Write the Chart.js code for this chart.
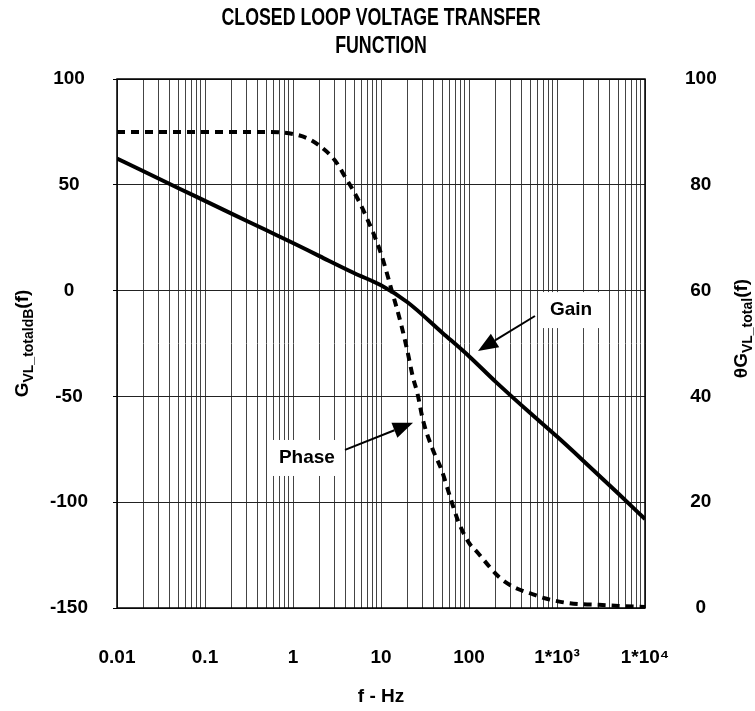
<!DOCTYPE html>
<html>
<head>
<meta charset="utf-8">
<script src="https://cdn.jsdelivr.net/npm/chart.js@4.4.0/dist/chart.umd.min.js"></script>
<style>
  body { margin: 0; background: #fff; }
  canvas { display: block; }
</style>
</head>
<body>
<canvas id="grafico" width="755" height="711"></canvas>
<script>
// dados
const freqGanho = [0.01, 0.02, 0.05, 0.1, 0.2, 0.5, 1, 2, 5, 10, 20, 50, 100, 200, 500, 1000, 2000, 5000, 10000];
const ganhoDb = [62.4, 56.4, 48.4, 42.4, 36.4, 28.5, 22.5, 16.3, 8.2, 2.5, -5.5, -20, -31, -43, -58, -69, -80.5, -96, -108];

const freqFase = [0.01, 0.1, 0.5, 1, 1.5, 2, 3, 4, 5, 7, 10, 13, 17, 20, 23, 26, 30, 38, 49, 61, 75, 100, 125, 175, 215, 270, 360, 490, 700, 1000, 1400, 2000, 3000, 5000, 10000];
const faseGraus = [90, 90, 90, 89.6, 88.7, 87.4, 84.6, 81.2, 78.5, 73.5, 67, 60.5, 53.5, 48.5, 43.7, 40.5, 35.5, 30.3, 26, 21, 16.5, 12.3, 10.5, 7.6, 6, 4.7, 3.6, 2.8, 1.9, 1.3, 0.9, 0.7, 0.6, 0.4, 0.2];

const decadas = [0.01, 0.1, 1, 10, 100, 1000, 10000];
const rotulosX = ['0.01', '0.1', '1', '10', '100', '1*10³', '1*10⁴'];
const multiplos = [1, 2, 3, 4, 5, 6, 7, 8, 9];

const titulo = ['CLOSED LOOP VOLTAGE TRANSFER', 'FUNCTION'];

// textos com seta (posicao em f / dB)
const anotacoes = [
    { texto: 'Gain', f: 1443, db: -9.2, de: [562, -12], para: [126.5, -28.5] },
    { texto: 'Phase', f: 1.44, db: -79.1, de: [3.9, -75.3], para: [23.1, -62.5] }
];

const FONTE = "'Liberation Sans', Arial, sans-serif";
Chart.defaults.font.family = FONTE;
Chart.defaults.font.weight = 'bold';
Chart.defaults.color = '#000';

const valoresGrade = [];
decadas.slice(0, -1).forEach(d => multiplos.forEach(m => valoresGrade.push(+(d * m).toPrecision(6))));
valoresGrade.push(decadas[decadas.length - 1]);

function rotuloX(v) {
    const i = decadas.findIndex(d => Math.abs(Math.log10(d) - Math.log10(v)) < 1e-9);
    return i >= 0 ? rotulosX[i] : '';
}

function seta(ctx, x1, y1, x2, y2) {
    const ang = Math.atan2(y2 - y1, x2 - x1);
    const comp = 20, meia = 8;
    const bx = x2 - comp * Math.cos(ang), by = y2 - comp * Math.sin(ang);
    ctx.beginPath();
    ctx.moveTo(x1, y1);
    ctx.lineTo(bx, by);
    ctx.lineWidth = 2;
    ctx.stroke();
    ctx.beginPath();
    ctx.moveTo(x2, y2);
    ctx.lineTo(bx + meia * Math.sin(ang), by - meia * Math.cos(ang));
    ctx.lineTo(bx - meia * Math.sin(ang), by + meia * Math.cos(ang));
    ctx.closePath();
    ctx.fill();
}

// titulo de eixo girado, com subscrito
function tituloEixo(ctx, x, y, partes) {
    ctx.save();
    ctx.translate(x, y);
    ctx.rotate(-Math.PI / 2);
    ctx.textBaseline = 'alphabetic';
    ctx.textAlign = 'left';
    let total = 0;
    partes.forEach(p => { ctx.font = 'bold ' + p.s + 'px ' + FONTE; total += ctx.measureText(p.t).width; });
    let pos = -total / 2;
    partes.forEach(p => {
        ctx.font = 'bold ' + p.s + 'px ' + FONTE;
        ctx.fillText(p.t, pos, p.dy);
        pos += ctx.measureText(p.t).width;
    });
    ctx.restore();
}

const extras = {
    id: 'extras',
    afterDatasetsDraw(chart) {
        const { ctx, chartArea: a, scales } = chart;
        ctx.save();
        ctx.strokeStyle = '#000';
        ctx.fillStyle = '#000';
        ctx.lineWidth = 1.5;
        ctx.strokeRect(a.left, a.top, a.width, a.height);

        anotacoes.forEach(n => {
            const x = scales.x.getPixelForValue(n.f);
            const y = scales.yL.getPixelForValue(n.db);
            ctx.font = 'bold 19px ' + FONTE;
            const w = ctx.measureText(n.texto).width;
            ctx.fillStyle = '#fff';
            ctx.fillRect(x - w / 2 - 8, y - 18, w + 16, 36);
            ctx.fillStyle = '#000';
            ctx.textAlign = 'center';
            ctx.textBaseline = 'middle';
            ctx.fillText(n.texto, x, y);
            seta(ctx,
                scales.x.getPixelForValue(n.de[0]), scales.yL.getPixelForValue(n.de[1]),
                scales.x.getPixelForValue(n.para[0]), scales.yL.getPixelForValue(n.para[1]));
        });
        ctx.restore();
    },
    afterDraw(chart) {
        const { ctx, chartArea: a } = chart;
        ctx.fillStyle = '#000';
        // titulo principal, letra estreita
        ctx.save();
        ctx.font = 'bold 24px ' + FONTE;
        ctx.textAlign = 'center';
        ctx.textBaseline = 'middle';
        ctx.translate((a.left + a.right) / 2, 0);
        ctx.scale(0.74, 1);
        titulo.forEach((t, i) => ctx.fillText(t, 0, 18 + i * 28.5));
        ctx.restore();

        tituloEixo(ctx, 28, (a.top + a.bottom) / 2, [
            { t: 'G', s: 19, dy: 0 },
            { t: 'VL_totaldB', s: 14, dy: 5 },
            { t: '(f)', s: 19, dy: 0 }
        ]);
        tituloEixo(ctx, 747, (a.top + a.bottom) / 2 - 15, [
            { t: 'θG', s: 19, dy: 0 },
            { t: 'VL_total', s: 14, dy: 5 },
            { t: '(f)', s: 19, dy: 0 }
        ]);
    }
};

const ctx = document.getElementById('grafico').getContext('2d');
new Chart(ctx, {
    type: 'line',
    data: {
        datasets: [
            {
                label: 'Gain',
                data: freqGanho.map((f, i) => ({ x: f, y: ganhoDb[i] })),
                yAxisID: 'yL',
                borderColor: '#000',
                borderWidth: 4,
                pointRadius: 0,
                cubicInterpolationMode: 'monotone'
            },
            {
                label: 'Phase',
                data: freqFase.map((f, i) => ({ x: f, y: faseGraus[i] })),
                yAxisID: 'yR',
                borderColor: '#000',
                borderWidth: 4,
                borderDash: [8, 6],
                pointRadius: 0,
                cubicInterpolationMode: 'monotone'
            }
        ]
    },
    options: {
        responsive: false,
        animation: false,
        layout: { padding: { top: 79, left: 0, right: 0, bottom: 0 } },
        plugins: {
            legend: { display: false },
            tooltip: { enabled: false },
            title: { display: false }
        },
        scales: {
            x: {
                type: 'logarithmic',
                min: decadas[0],
                max: decadas[decadas.length - 1],
                afterBuildTicks: s => { s.ticks = valoresGrade.map(v => ({ value: v })); },
                afterFit: s => { s.height = 103; },
                grid: { color: '#444', lineWidth: 1, drawTicks: false },
                border: { display: false },
                ticks: {
                    autoSkip: false,
                    maxRotation: 0,
                    padding: 38,
                    font: { size: 19, weight: 'bold' },
                    callback: v => rotuloX(v)
                },
                title: { display: true, text: 'f - Hz', font: { size: 19, weight: 'bold' }, padding: { top: 0, bottom: 3 } }
            },
            yL: {
                position: 'left',
                min: -150,
                max: 100,
                afterFit: s => { s.width = 117; },
                grid: { color: '#222', lineWidth: 1, tickLength: 4, tickColor: '#000' },
                border: { display: false },
                ticks: { stepSize: 50, padding: 25, crossAlign: 'center', font: { size: 19, weight: 'bold' } }
            },
            yR: {
                position: 'right',
                min: 0,
                max: 100,
                afterFit: s => { s.width = 110; },
                grid: { display: false },
                border: { display: false },
                ticks: { stepSize: 20, padding: 32, crossAlign: 'center', font: { size: 19, weight: 'bold' } }
            }
        }
    },
    plugins: [extras]
});
</script>
</body>
</html>
